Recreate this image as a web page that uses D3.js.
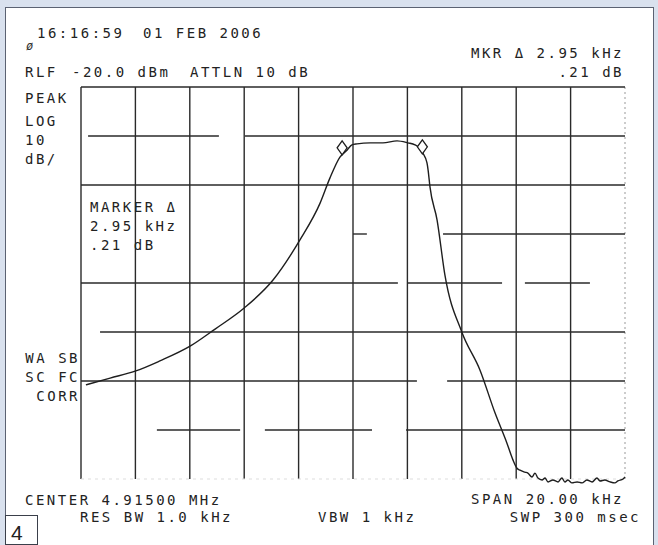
<!DOCTYPE html>
<html>
<head>
<meta charset="utf-8">
<script src="https://cdn.jsdelivr.net/npm/d3@7"></script>
<style>
  html, body { margin: 0; padding: 0; background: #d9e1ee; }
  svg { display: block; }
  .lbl { font-family: "DejaVu Sans Mono", monospace; font-size: 14px; letter-spacing: 2.5px; fill: #222; }
</style>
</head>
<body>
<svg id="chart" width="658" height="545"></svg>
<script>
// trace: frequency offset from centre (kHz) and level (dBm)
const traceKHz = [-9.82, -8.93, -8.01, -7.10, -5.99, -5.07, -4.0, -2.94, -1.95, -1.21, -0.85,
  -0.48, -0.22, -0.04, 0.15, 0.63, 1.10, 1.62, 2.02, 2.28, 2.43, 2.57, 2.72, 2.76, 2.83, 3.09, 3.38, 4.0,
  4.67, 5.22, 5.66, 5.88, 6.03, 6.14, 6.32, 6.43, 6.58, 6.69, 6.80, 6.95, 7.06, 7.17, 7.35, 7.54, 7.68,
  7.79, 7.90, 8.05, 8.24, 8.42, 8.60, 8.79, 8.97, 9.08, 9.26, 9.45, 9.63, 9.74, 9.93, 10.0];
const traceDBm = [-80.8, -79.4, -78.0, -75.9, -72.9, -69.4, -65.1, -59.4, -51.2, -43.7, -38.6,
  -34.3, -32.9, -31.8, -31.6, -31.4, -31.4, -31.0, -31.4, -31.8, -32.4, -33.5, -35.5, -36.9, -40.4, -47.1, -58.4, -70.0,
  -77.8, -86.5, -92.7, -96.1, -97.8, -98.2, -98.6, -98.8, -99.6, -98.8, -99.8, -100.2, -99.8, -100.6, -100.2, -100.6, -99.8,
  -100.6, -100.2, -100.8, -100.6, -100.8, -100.2, -100.6, -99.8, -100.4, -100.2, -100.6, -100.8, -100.4, -100.0, -99.6];

// the two markers (kHz, dBm)
const markerKHz = [-0.40, 2.55];
const markerDBm = [-32.4, -32.2];

// axis divisions
const freqTicks = [-10, -8, -6, -4, -2, 0, 2, 4, 6, 8, 10];
const levelTicks = [-20, -30, -40, -50, -60, -70, -80, -90, -100];

// plotter drew some horizontal graticule lines with gaps: pieces per level (kHz ranges)
const gridPieces = {
  '-20': [[-10, 10]],
  '-30': [[-9.74, -4.93], [-3.97, 10]],
  '-40': [[-10, 10]],
  '-50': [[0, 0.51], [3.31, 10]],
  '-60': [[-10, 1.65], [2.02, 5.48], [6.32, 8.71]],
  '-70': [[-9.3, 10]],
  '-80': [[-10, 2.35], [3.46, 10]],
  '-90': [[-7.21, -4.15], [-3.24, 0.70], [1.95, 10]]
};

const svg = d3.select('#chart');

// white sheet with a thin frame
svg.append('rect').attr('x', 5.5).attr('y', 7.5).attr('width', 648).attr('height', 560)
  .attr('fill', '#fff').attr('stroke', '#5b6272').attr('stroke-width', 1);

const x = d3.scaleLinear().domain([-10, 10]).range([81, 625]);
const y = d3.scaleLinear().domain([-100, -20]).range([479, 87]);

const grid = svg.append('g').attr('stroke', '#2a2a2a').attr('stroke-width', 1.4).attr('fill', 'none');

// vertical graticule
grid.selectAll('line.v')
  .data(freqTicks.filter((f) => f < 10))
  .join('line')
  .attr('class', 'v')
  .attr('x1', (d) => x(d)).attr('x2', (d) => x(d))
  .attr('y1', y(-20)).attr('y2', y(-100));

// right edge is faint and dotted
grid.append('line')
  .attr('x1', x(10)).attr('x2', x(10)).attr('y1', y(-20)).attr('y2', y(-100))
  .attr('stroke', '#999').attr('stroke-width', 1).attr('stroke-dasharray', '2,3');

// bottom edge is barely there
grid.append('line')
  .attr('x1', x(-10)).attr('x2', x(10)).attr('y1', y(-100)).attr('y2', y(-100))
  .attr('stroke', '#ddd').attr('stroke-width', 1).attr('stroke-dasharray', '3,4');

// horizontal graticule pieces
const pieces = [];
for (const lv of levelTicks) {
  for (const p of gridPieces[String(lv)] || []) pieces.push({ lv, a: p[0], b: p[1] });
}
grid.selectAll('line.h')
  .data(pieces)
  .join('line')
  .attr('class', 'h')
  .attr('x1', (d) => x(d.a)).attr('x2', (d) => x(d.b))
  .attr('y1', (d) => y(d.lv)).attr('y2', (d) => y(d.lv));

// trace
const pts = traceKHz.map((f, i) => [f, traceDBm[i]]);
const line = d3.line().x((d) => x(d[0])).y((d) => y(d[1])).curve(d3.curveMonotoneX);
svg.append('path')
  .attr('d', line(pts))
  .attr('fill', 'none')
  .attr('stroke', '#1e1e1e')
  .attr('stroke-width', 1.4)
  .attr('stroke-linejoin', 'round');

// diamond markers
svg.append('g').selectAll('path')
  .data(markerKHz.map((f, i) => [f, markerDBm[i]]))
  .join('path')
  .attr('d', (d) => {
    const cx = x(d[0]), cy = y(d[1]);
    return `M${cx},${cy - 7} L${cx + 5},${cy} L${cx},${cy + 7} L${cx - 5},${cy} Z`;
  })
  .attr('fill', '#fff')
  .attr('stroke', '#1e1e1e')
  .attr('stroke-width', 1.3);

// annotations
function label(text, px, py, anchor) {
  svg.append('text').attr('class', 'lbl')
    .attr('x', px).attr('y', py)
    .attr('text-anchor', anchor || 'start')
    .text(text);
}

label('16:16:59', 37, 38);
label('01 FEB 2006', 143, 38);
svg.append('text').attr('x', 26).attr('y', 50)
  .attr('font-family', 'DejaVu Sans Mono').attr('font-size', 12).attr('font-style', 'italic')
  .attr('fill', '#333').text('ø');

label('MKR \u0394 2.95 kHz', 624, 58, 'end');
label('RLF', 25, 77);
label('-20.0 dBm', 72, 77);
label('ATTLN 10 dB', 190, 77);
label('.21 dB', 624, 77, 'end');

label('PEAK', 25, 103);
label('LOG', 25, 126);
label('10', 25, 145);
label('dB/', 25, 164);

label('MARKER \u0394', 90, 212);
label('2.95 kHz', 90, 231);
label('.21 dB', 90, 250);

label('WA SB', 80, 363, 'end');
label('SC FC', 80, 382, 'end');
label('CORR', 80, 401, 'end');

label('CENTER 4.91500 MHz', 25, 505);
label('SPAN 20.00 kHz', 624, 504, 'end');
label('RES BW 1.0 kHz', 80, 522);
label('VBW 1 kHz', 318, 522);
label('SWP 300 msec', 641, 522, 'end');

// figure number box
svg.append('rect').attr('x', 5.5).attr('y', 515.5).attr('width', 32).attr('height', 29)
  .attr('fill', '#fff').attr('stroke', '#3a3f4a').attr('stroke-width', 1);
svg.append('text').attr('x', 11).attr('y', 540)
  .attr('font-family', 'Liberation Sans, Arial, sans-serif').attr('font-size', 21)
  .attr('fill', '#222').text('4');
</script>
</body>
</html>
